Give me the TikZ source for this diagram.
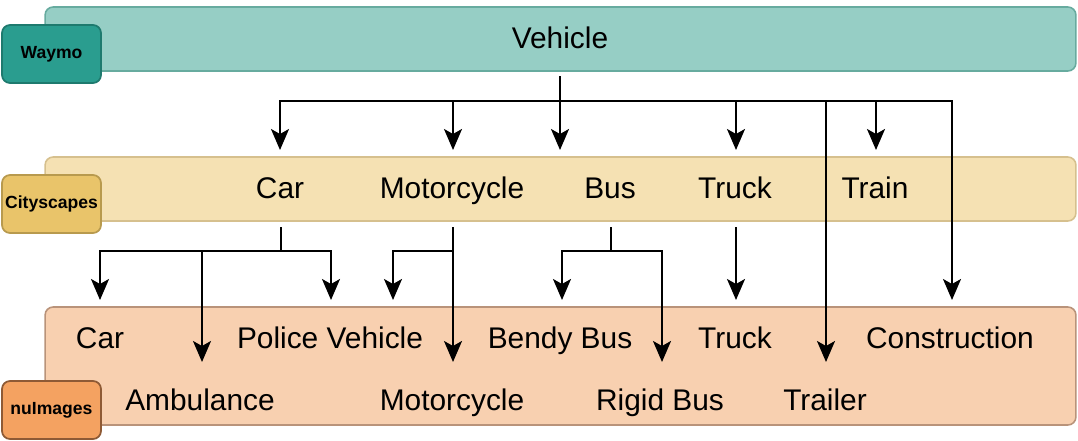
\documentclass[tikz,border=0pt]{standalone}
\usepackage{fontspec}
\setmainfont{Liberation Sans}
\usetikzlibrary{calc,arrows.meta}

\definecolor{waymoband}{HTML}{96CEC5}
\definecolor{waymoline}{HTML}{67AB9F}
\definecolor{waymotag}{HTML}{2A9D8F}
\definecolor{waymotagline}{HTML}{1E7A6E}
\definecolor{cityband}{HTML}{F5E1B3}
\definecolor{cityline}{HTML}{D6C08E}
\definecolor{citytag}{HTML}{E9C46A}
\definecolor{citytagline}{HTML}{B89A4E}
\definecolor{nuband}{HTML}{F8D0B0}
\definecolor{nuline}{HTML}{B9937A}
\definecolor{nutag}{HTML}{F4A261}
\definecolor{nutagline}{HTML}{8E5A35}

\begin{document}
\begin{tikzpicture}[x=0.02cm,y=-0.02cm]
\tikzset{band/.style={rounded corners=0.16cm,line width=0.9pt,minimum width=20.62cm,inner sep=0pt},
  tag/.style={rounded corners=0.16cm,line width=1pt,minimum width=1.98cm,minimum height=1.16cm,
    inner sep=0pt,font=\fontsize{10}{12}\selectfont\bfseries},
  lbl/.style={font=\fontsize{17}{20}\selectfont,inner sep=0pt,text height=12.2pt,text depth=0pt},
  arr/.style={-{Stealth[length=0.42cm,width=0.36cm,inset=0.1cm]},line width=1.13pt},
  ln/.style={line width=1.13pt}}

\useasboundingbox (0,0) rectangle (1078,440);

% dataset bands
\node[band,draw=waymoline,fill=waymoband,minimum height=1.28cm] (wband) at (560.5,39) {};
\node[band,draw=cityline,fill=cityband,minimum height=1.28cm] (cband) at (560.5,189) {};
\node[band,draw=nuline,fill=nuband,minimum height=2.36cm] (nband) at (560.5,366) {};

% dataset tags
\node[tag,draw=waymotagline,fill=waymotag] (wtag) at (51.5,54) {Waymo};
\node[tag,draw=citytagline,fill=citytag] (ctag) at (51.5,204) {Cityscapes};
\node[tag,draw=nutagline,fill=nutag] (ntag) at (51.5,410) {nuImages};

% class labels
\node[lbl] (w-veh) at (560,38) {Vehicle};

\node[lbl] (c-car) at (280,188) {Car};
\node[lbl] (c-moto) at (452,188) {Motorcycle};
\node[lbl] (c-bus) at (610,188) {Bus};
\node[lbl] (c-truck) at (735,188) {Truck};
\node[lbl] (c-train) at (875,188) {Train};

\node[lbl] (n-car) at (100,338) {Car};
\node[lbl] (n-police) at (330,338) {Police Vehicle};
\node[lbl] (n-bendy) at (560,338) {Bendy Bus};
\node[lbl] (n-truck) at (735,338) {Truck};
\node[lbl] (n-constr) at (950,338) {Construction};
\node[lbl] (n-amb) at (200,400) {Ambulance};
\node[lbl] (n-moto) at (452,400) {Motorcycle};
\node[lbl] (n-rigid) at (660,400) {Rigid Bus};
\node[lbl] (n-trailer) at (825,400) {Trailer};

% branch points
\coordinate (wsplit) at ($(w-veh)+(0,63)$);
\coordinate (csplit-car) at ($(c-car)+(1,63)$);
\coordinate (csplit-moto) at ($(c-moto)+(1,63)$);
\coordinate (csplit-bus) at ($(c-bus)+(1,63)$);

% Waymo -> Cityscapes / nuImages
\draw[ln] ($(w-veh)+(0,38)$) -- (wsplit);
\draw[arr] (wsplit) -| ($(c-car)+(0,-38)$);
\draw[arr] (wsplit) -| ($(c-moto)+(1,-38)$);
\draw[arr] (wsplit) -- ($(c-bus)+(-50,-38)$);
\draw[arr] (wsplit) -| ($(c-truck)+(1,-38)$);
\draw[arr] (wsplit) -| ($(c-train)+(1,-38)$);
\draw[arr] (wsplit) -| ($(n-trailer)+(1,-38)$);
\draw[arr] (wsplit) -| ($(n-constr)+(2,-38)$);

% Cityscapes -> nuImages
\draw[ln] ($(c-car)+(1,39)$) -- (csplit-car);
\draw[arr] (csplit-car) -| ($(n-car)+(0,-38)$);
\draw[arr] (csplit-car) -| ($(n-amb)+(2,-38)$);
\draw[arr] (csplit-car) -| ($(n-police)+(1,-38)$);

\draw[arr] ($(c-moto)+(1,39)$) -- ($(n-moto)+(1,-38)$);
\draw[arr] (csplit-moto) -| ($(n-police)+(63,-38)$);

\draw[ln] ($(c-bus)+(1,39)$) -- (csplit-bus);
\draw[arr] (csplit-bus) -| ($(n-bendy)+(2,-38)$);
\draw[arr] (csplit-bus) -| ($(n-rigid)+(2,-38)$);

\draw[arr] ($(c-truck)+(1,39)$) -- ($(n-truck)+(1,-38)$);
\end{tikzpicture}
\end{document}
